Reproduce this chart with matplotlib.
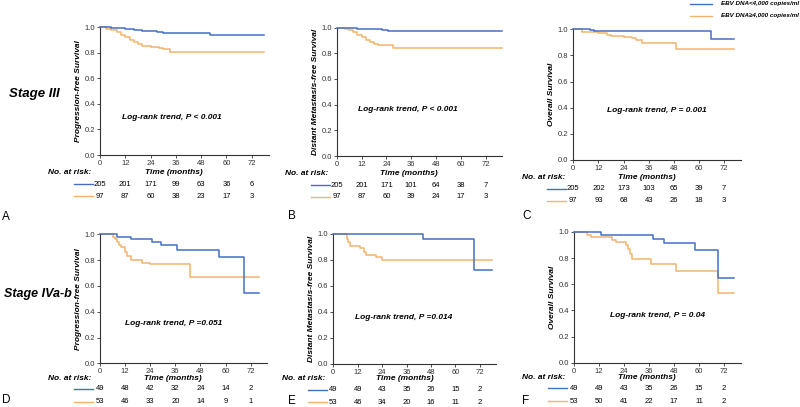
import numpy as np
import matplotlib
matplotlib.use("Agg")
import matplotlib.pyplot as plt

plt.rcParams['font.family'] = ['Liberation Sans', 'DejaVu Sans']

BLUE = "#4470c4"
ORANGE = "#f4b46e"

# step curves: (time in months, survival)
pfs3_low_t = [0, 5, 8, 12, 16, 20, 24, 27, 30, 51, 52, 78]
pfs3_low_s = [1.0, 0.995, 0.99, 0.985, 0.978, 0.972, 0.965, 0.958, 0.952, 0.95, 0.937, 0.937]
pfs3_high_t = [0, 3, 5, 8, 10, 12, 14, 16, 18, 20, 24, 28, 30, 33, 78]
pfs3_high_s = [1.0, 0.985, 0.975, 0.96, 0.94, 0.925, 0.9, 0.88, 0.865, 0.85, 0.845, 0.835, 0.83, 0.807, 0.807]

dmfs3_low_t = [0, 5, 10, 18, 22, 25, 28, 80]
dmfs3_low_s = [1.0, 0.995, 0.99, 0.985, 0.98, 0.975, 0.97, 0.97]
dmfs3_high_t = [0, 4, 6, 8, 10, 12, 14, 16, 18, 20, 27, 80]
dmfs3_high_s = [1.0, 0.99, 0.98, 0.965, 0.945, 0.925, 0.905, 0.885, 0.875, 0.865, 0.84, 0.84]

os3_low_t = [0, 8, 10, 18, 20, 66, 77]
os3_low_s = [1.0, 0.995, 0.99, 0.99, 0.985, 0.925, 0.925]
os3_high_t = [0, 4, 12, 16, 18, 24, 28, 30, 33, 49, 77]
os3_high_s = [1.0, 0.982, 0.975, 0.96, 0.95, 0.94, 0.93, 0.918, 0.893, 0.852, 0.852]

pfs4_low_t = [0, 8, 15, 25, 29, 37, 57, 69, 76]
pfs4_low_s = [1.0, 0.98, 0.96, 0.94, 0.917, 0.878, 0.822, 0.548, 0.548]
pfs4_high_t = [0, 6, 7, 8, 9, 10, 12, 13, 15, 20, 24, 43, 76]
pfs4_high_s = [1.0, 0.98, 0.96, 0.94, 0.92, 0.9, 0.86, 0.83, 0.80, 0.78, 0.767, 0.672, 0.672]

dmfs4_low_t = [0, 44, 69, 78]
dmfs4_low_s = [1.0, 0.964, 0.723, 0.723]
dmfs4_high_t = [0, 6.5, 7, 8, 13, 15, 16, 21, 24, 78]
dmfs4_high_s = [1.0, 0.96, 0.94, 0.91, 0.89, 0.86, 0.84, 0.82, 0.80, 0.80]

os4_low_t = [0, 13, 38, 43, 58, 69, 77]
os4_low_s = [1.0, 0.98, 0.949, 0.918, 0.86, 0.645, 0.645]
os4_high_t = [0, 6, 8, 13, 18, 20, 25, 26, 27, 28, 37, 49, 69, 77]
os4_high_s = [1.0, 0.98, 0.965, 0.96, 0.94, 0.92, 0.90, 0.87, 0.83, 0.795, 0.755, 0.705, 0.53, 0.53]

risk_times = [0, 12, 24, 36, 48, 60, 72]
risk_A = [[205, 201, 171, 99, 63, 36, 6], [97, 87, 60, 38, 23, 17, 3]]
risk_B = [[205, 201, 171, 101, 64, 38, 7], [97, 87, 60, 39, 24, 17, 3]]
risk_C = [[205, 202, 173, 103, 65, 39, 7], [97, 93, 68, 43, 26, 18, 3]]
risk_D = [[49, 48, 42, 32, 24, 14, 2], [53, 46, 33, 20, 14, 9, 1]]
risk_E = [[49, 49, 43, 35, 26, 15, 2], [53, 46, 34, 20, 16, 11, 2]]
risk_F = [[49, 49, 43, 35, 26, 15, 2], [53, 50, 41, 22, 17, 11, 2]]

W, H = 800, 407
fig = plt.figure(figsize=(W / 100, H / 100), dpi=100)


def px_axes(left, top, right, bottom):
    return fig.add_axes([left / W, 1 - bottom / H, (right - left) / W, (bottom - top) / H])


panels = [
    # box(px), curves, ylabel, p-text, p-pos(data), risk, letter, letter pos(px)
    ((100, 27, 268.6, 155), (pfs3_low_t, pfs3_low_s, pfs3_high_t, pfs3_high_s),
     "Progression-free Survival", "Log-rank trend, P < 0.001", (34, 0.29), risk_A, "A", (2, 217)),
    ((336.7, 27.5, 502.2, 156), (dmfs3_low_t, dmfs3_low_s, dmfs3_high_t, dmfs3_high_s),
     "Distant Metastasis-free Survival", "Log-rank trend, P < 0.001", (34.5, 0.36), risk_B, "B", (288, 216)),
    ((573.3, 29.3, 740.7, 160), (os3_low_t, os3_low_s, os3_high_t, os3_high_s),
     "Overall Survival", "Log-rank trend, P = 0.001", (40, 0.38), risk_C, "C", (522, 216)),
    ((100, 234.3, 267.4, 363.3), (pfs4_low_t, pfs4_low_s, pfs4_high_t, pfs4_high_s),
     "Progression-free Survival", "Log-rank trend, P =0.051", (35, 0.31), risk_D, "D", (2, 400)),
    ((333.3, 234, 496, 364), (dmfs4_low_t, dmfs4_low_s, dmfs4_high_t, dmfs4_high_s),
     "Distant Metastasis-free Survival", "Log-rank trend, P =0.014", (34.5, 0.36), risk_E, "E", (288, 401)),
    ((574, 232, 740.7, 362.7), (os4_low_t, os4_low_s, os4_high_t, os4_high_s),
     "Overall Survival", "Log-rank trend, P = 0.04", (40, 0.36), risk_F, "F", (522, 401)),
]

for box, curves, ylab, ptxt, ppos, risk, letter, lpos in panels:
    left, top, right, bottom = box
    ax = px_axes(*box)
    lt, ls, ht, hs = curves
    ax.step(lt, ls, where="post", color=BLUE, lw=1.1, clip_on=False, zorder=3)
    ax.step(ht, hs, where="post", color=ORANGE, lw=1.1, clip_on=False, zorder=2)
    ax.set_xlim(0, 80)
    ax.set_ylim(0, 1.0)
    ax.set_xticks(risk_times)
    ax.set_yticks([0, 0.2, 0.4, 0.6, 0.8, 1.0])
    ax.set_yticklabels(["0.0", "0.2", "0.4", "0.6", "0.8", "1.0"])
    for s in ("top", "right"):
        ax.spines[s].set_visible(False)
    for s in ("left", "bottom"):
        ax.spines[s].set_linewidth(0.8)
        ax.spines[s].set_color("#333333")
    ax.tick_params(labelsize=5.5, length=2.5, width=0.6, pad=1, colors="#333333")
    ax.set_ylabel(ylab, fontsize=6, fontweight="bold", fontstyle="italic", labelpad=2)
    ax.text(ppos[0], ppos[1], ptxt, fontsize=6, fontweight="bold", fontstyle="italic",
            ha="center", va="center")

    # risk table
    ppx = (bottom - top)  # axes height in px
    off = [17.5, 29, 41] if top < 100 else [14.7, 25.7, 38.4]
    tr = ax.get_xaxis_transform()
    ax.text(35, -off[0] / ppx, "Time (months)", transform=tr, fontsize=6,
            fontweight="bold", fontstyle="italic", ha="center", va="center")
    ax.text(-4, -off[0] / ppx, "No. at risk:", transform=tr, fontsize=6,
            fontweight="bold", fontstyle="italic", ha="right", va="center")
    for row, col, o in zip(risk, (BLUE, ORANGE), off[1:]):
        ax.plot([-12.5, -3.3], [-o / ppx] * 2, transform=tr, color=col, lw=1.0, clip_on=False)
        for tm, n in zip(risk_times, row):
            ax.text(tm, -o / ppx, str(n), transform=tr, fontsize=5.5,
                    ha="center", va="center")

    fig.text(lpos[0] / W, 1 - lpos[1] / H, letter, fontsize=8.5, ha="left", va="center")

fig.text(9 / W, 1 - 94 / H, "Stage III", fontsize=9.5, fontweight="bold",
         fontstyle="italic", ha="left", va="center")
fig.text(4 / W, 1 - 294 / H, "Stage IVa-b", fontsize=9, fontweight="bold",
         fontstyle="italic", ha="left", va="center")

# legend
for y, col, lab in ((4, BLUE, "EBV DNA<4,000 copies/ml"), (16, ORANGE, "EBV DNA\u22654,000 copies/ml")):
    fig.add_artist(plt.Line2D([690 / W, 712 / W], [1 - y / H] * 2, color=col, lw=1.0))
    fig.text(721 / W, 1 - y / H, lab, fontsize=4.5, fontweight="bold", fontstyle="italic",
             ha="left", va="center")

fig.savefig("out.png", dpi=100)
